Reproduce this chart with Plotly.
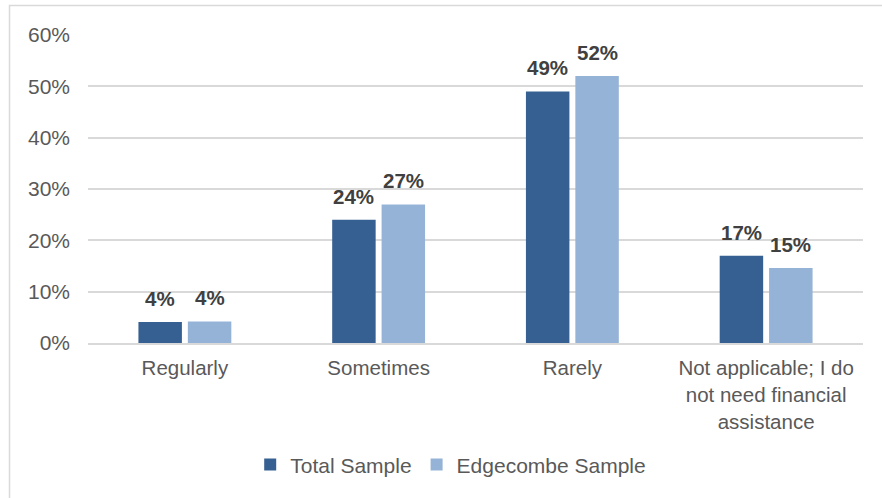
import plotly.graph_objects as go

# Survey responses: how often financial assistance is needed
categories = ["Regularly", "Sometimes", "Rarely",
              "Not applicable; I do<br>not need financial<br>assistance"]
total_sample = [0.041, 0.24, 0.49, 0.17]
edgecombe_sample = [0.042, 0.27, 0.52, 0.146]
series_names = ["Total Sample", "Edgecombe Sample"]
series_colors = ["#376092", "#95B3D7"]
y_ticks = [0, 0.1, 0.2, 0.3, 0.4, 0.5, 0.6]

FONT = "Liberation Sans, Arial, sans-serif"
BARGAP = 0.49

fig = go.Figure()
for name, vals, col in zip(series_names, [total_sample, edgecombe_sample], series_colors):
    fig.add_trace(go.Bar(name=name, x=categories, y=vals, marker_color=col,
                         marker_line_width=0))

# bold value labels above each bar, positioned by category index and slot offset
slot = (1 - BARGAP) / 2
for s, vals in enumerate([total_sample, edgecombe_sample]):
    off = (s - 0.5) * slot
    for i, v in enumerate(vals):
        fig.add_annotation(x=i + off, y=v, text=f"{v:.0%}", showarrow=False,
                           yanchor="bottom", yshift=10,
                           font=dict(family=FONT, size=20.5, color="#404040", weight="bold"))

# light gray frame around the chart
fig.add_shape(type="rect", xref="paper", yref="paper",
              x0=(9.5 - 88) / 775, x1=(900 - 88) / 775,
              y0=(343 - 520) / 308, y1=(343 - 5.5) / 308,
              line=dict(color="#D9D9D9", width=1.5), fillcolor="rgba(0,0,0,0)", layer="below")

fig.update_layout(
    width=882, height=498,
    margin=dict(l=88, r=19, t=35, b=155),
    paper_bgcolor="white", plot_bgcolor="white",
    barmode="group", bargap=BARGAP, bargroupgap=0.12,
    font=dict(family=FONT, size=21, color="#595959"),
    showlegend=True,
    legend=dict(orientation="h", x=0.468, xanchor="center", y=-0.396, yanchor="middle",
                font=dict(size=21, color="#595959"), itemwidth=30, traceorder="normal"),
)
fig.update_xaxes(showgrid=False, showline=True, linecolor="#D9D9D9", linewidth=1.5,
                 ticks="", ticklabelstandoff=6, tickfont=dict(size=20.5))
fig.update_yaxes(range=[0, 0.6], tickvals=y_ticks, tickformat=".0%", showgrid=True,
                 gridcolor="#D9D9D9", gridwidth=1.5, zeroline=False, showline=False,
                 ticklabelstandoff=17, tickfont=dict(size=21))

fig.write_html("out.html")
